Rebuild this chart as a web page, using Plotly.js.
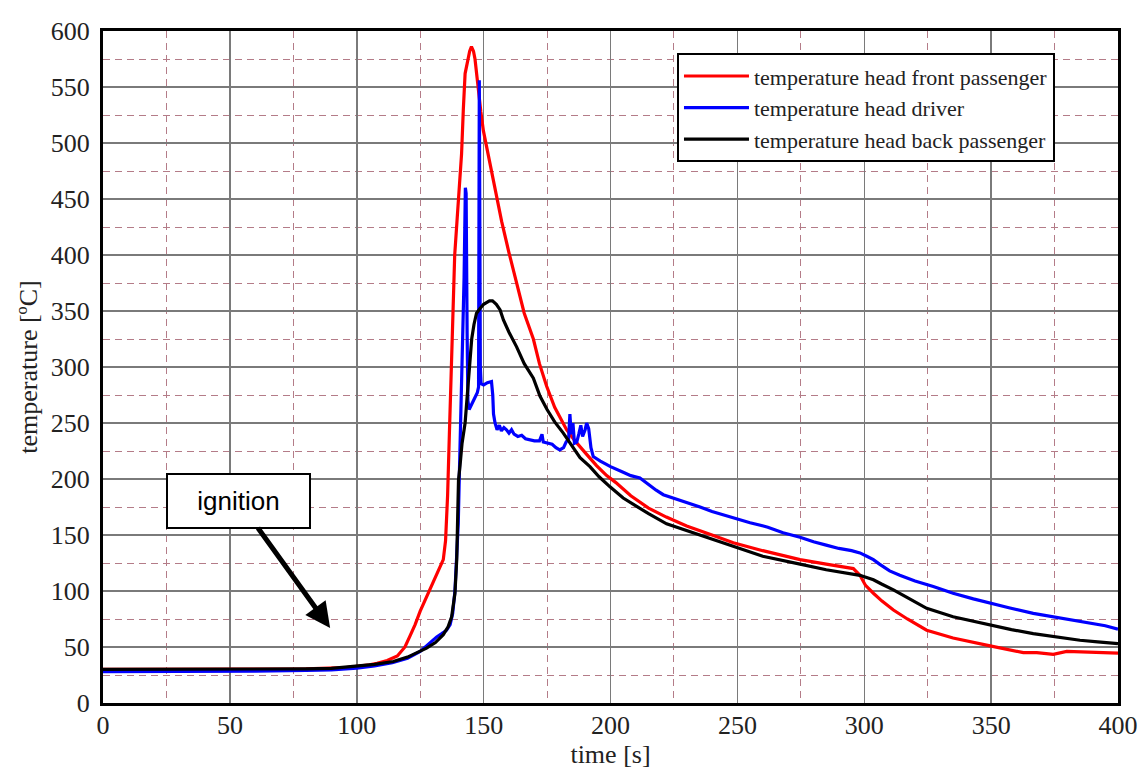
<!DOCTYPE html>
<html>
<head>
<meta charset="utf-8">
<script src="https://cdn.plot.ly/plotly-3.0.1.min.js"></script>
<style>html,body{margin:0;padding:0;background:#fff;}#chart{width:1144px;height:771px;}</style>
</head>
<body>
<div id="chart"></div>
<script>
// ---- data ----
const seriesNames = ["temperature head front passenger", "temperature head driver", "temperature head back passenger"];

const frontTime = [0,20,40,60,80,95,100,105,108,112,116,119,121,123,125,128,130,132,134.1,135,135.8,136.5,137.2,137.8,138.6,139.5,140.5,141.3,142,142.7,143.6,144.5,145.2,146,146.6,147.3,147.9,148.9,149.9,151.8,153.8,155.5,157.1,160,163,166,169.6,172,174.8,178,182.7,186,190.6,194.5,198.5,202,208,215,222,230,240,248.4,260,274.7,285,295.7,298.3,300.5,303.6,307,311.5,317,324.6,335,349.6,356,362.7,368,374.5,379.8,385,392,400];
const frontTemp = [30,30,30,30,30.5,31.5,32.5,34,35.5,38,42,50,60,70,82,97,107,117,128,145,185,240,300,350,400,430,460,490,530,562,572,582,586,582,575,560,545,528,511,490,467,448,430,402,374,348,325,303,283,264,244,234,222,212,203,197,185,174,166,158,150,143,136,128,124,120,114,105,98,91,83,75,65,58,51,48,45,45,43.5,46,45.5,45,44.5];

const driverTime = [0,20,40,60,80,90,100,107,114,120,125,128,131.5,133.5,135.4,136.8,137.8,138.7,139.4,140,140.5,141,141.5,142.3,142.8,143.1,143.5,143.8,144.3,145.5,146.5,147.5,148,148.3,148.7,149,150,151.5,153.1,153.6,153.9,154.5,155.3,156.2,157,158,159,160,161,162,163.5,165,166.5,168,170,172,173,173.5,175,177,178.5,180,181.5,182.5,183.5,184,184.5,185.2,185.8,186.7,187.5,188.3,189,190,190.6,191.4,192.3,193.2,196,200,205,208,211.6,215,218,220.8,225,230,235.3,240,248.4,255,262,268,274.7,280,285,290,295,298.3,301,303.6,306,310,314,320,327.2,335,343,349.6,357,366.6,372,377.1,383,390,395,400];
const driverTemp = [28,28,28.5,28.5,29,29.5,31,33,36,40,46,52,59,62,65,70,80,100,128,160,210,260,290,380,460,455,330,270,262,268,272,277,282,556,300,285,284,286,287,275,258,250,244,248,243,246,244,241,244,240,238,239,236,235,234,234,240,233,232,231,228,226,228,233,236,258,240,250,232,233,240,248,238,244,250,245,228,220,216,211,206,203,201,195,190,186,183,179,175,171,165,161,157,152,148,144,141,138,136,134,131,128,124,118,114,109,104,98,93,89,85,80,78,76,74,71,69,66];

const backTime = [0,20,40,60,80,90,100,107,114.4,120,127.5,131,134.1,136,137.4,138.2,138.7,139.4,139.8,140.1,140.7,141.5,142.7,143.3,144,145.3,146.2,147.2,148.5,150,152.3,153.5,155,156.5,157.8,160,163,166,169.6,172.2,175,178,181.4,185,188,191.9,195.5,199.8,205,210,215,222.1,230,235.3,248.4,260,274.7,285,298.3,303.6,307,311.5,317,324.6,335,349.6,358,366.6,375,385,392,400];
const backTemp = [30,30,30,30,30.5,31,33,34.5,37,41,49,54,61,68,77,88,98,128,160,199,212,232,250,268,284,325,338,348,352,356,359,359,356,351,342,331,318,303,290,274,262,251,241,229,219,211,202,193,183,176,169,160,154,150,139.5,131,124,119,114,110,106,101,94,84.5,77,69.6,65.5,62,59,56,54.5,53];

const xTicks = [0,50,100,150,200,250,300,350,400];
const yTicks = [0,50,100,150,200,250,300,350,400,450,500,550,600];
const seriesColors = ["#ff0000", "#0000ff", "#000000"];

const serif = "Liberation Serif, Times New Roman, serif";

const traces = [
  {x: frontTime, y: frontTemp, name: seriesNames[0]},
  {x: driverTime, y: driverTemp, name: seriesNames[1]},
  {x: backTime, y: backTemp, name: seriesNames[2]}
].map((t, i) => Object.assign(t, {
  type: "scatter", mode: "lines",
  line: {color: seriesColors[i], width: 3.2}
}));

const axisCommon = {
  showline: true, mirror: true, linecolor: "#000", linewidth: 3,
  ticks: "", showgrid: true, gridcolor: "#7a7a7a", gridwidth: 1.5,
  zeroline: false,
  tickfont: {family: serif, size: 26, color: "#222"},
  minor: {dtick: 25, showgrid: true, gridcolor: "#b47c88", gridwidth: 1, griddash: "7px,5px", ticks: ""}
};

const layout = {
  width: 1144, height: 771,
  margin: {l: 103, r: 26, t: 31, b: 68},
  paper_bgcolor: "#fff", plot_bgcolor: "#fff",
  showlegend: true,
  xaxis: Object.assign({}, axisCommon, {
    range: [0, 400], tickvals: xTicks, ticktext: xTicks.map(String),
    title: {text: "time [s]", font: {family: serif, size: 26, color: "#222"}, standoff: 2},
    ticklabelstandoff: -3
  }),
  yaxis: Object.assign({}, axisCommon, {
    range: [0, 600], tickvals: yTicks, ticktext: yTicks.map(String),
    title: {text: "temperature [ºC]", font: {family: serif, size: 26, color: "#222"}, standoff: 6},
    ticklabelstandoff: 5
  }),
  legend: {
    x: 0.5655, y: 0.967, xanchor: "left", yanchor: "top",
    bgcolor: "#fff", bordercolor: "#000", borderwidth: 2,
    font: {family: serif, size: 22, color: "#222"},
    itemwidth: 65, tracegroupgap: 0
  },
  annotations: [{
    xref: "x", yref: "y", axref: "x", ayref: "y",
    x: 89.5, y: 67, ax: 53.4, ay: 180.4,
    text: "ignition", showarrow: true,
    arrowhead: 2, arrowsize: 1, arrowwidth: 5, arrowcolor: "#000", standoff: 0,
    font: {family: "Liberation Sans, Arial, sans-serif", size: 26, color: "#000"},
    bgcolor: "#fff", bordercolor: "#000", borderwidth: 2, borderpad: 0,
    width: 141, height: 52, align: "center", valign: "middle"
  }]
};

Plotly.newPlot("chart", traces, layout, {displayModeBar: false, staticPlot: true});
</script>
</body>
</html>
